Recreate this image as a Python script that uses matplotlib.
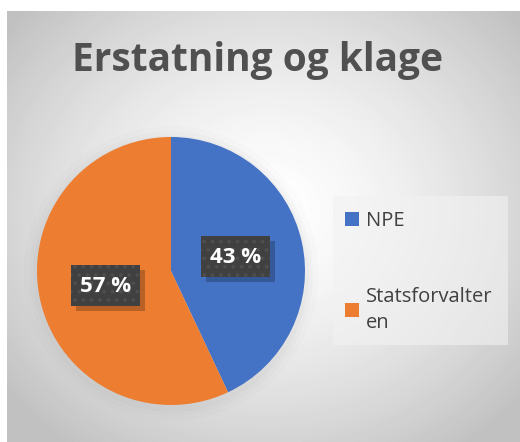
import numpy as np
import matplotlib.pyplot as plt
from matplotlib.patches import Patch, Rectangle, Circle

# Chart data
categories = ['NPE', 'Statsforvalteren']
values = [43, 57]
colors = ['#4472C4', '#ED7D31']
title = 'Erstatning og klage'

W, H = 520, 442
fig = plt.figure(figsize=(W / 100, H / 100), dpi=100)
fig.patch.set_facecolor('white')
plt.rcParams['hatch.linewidth'] = 1.5

# Radial gray background of the chart area
bg = fig.add_axes([7 / W, 0, 1 - 7 / W, 1 - 11 / H])
yy, xx = np.mgrid[0:431, 0:513]
d = np.hypot((xx - 260) / 330, (yy - 200) / 290)
shade = 1.0 - 0.24 * np.clip(d, 0, 1) ** 1.5
bg.imshow(shade, cmap='gray', vmin=0, vmax=1, aspect='auto', interpolation='bilinear')
bg.axis('off')

# Title
fig.text(257 / W, 1 - 61 / H, title, ha='center', va='center',
         fontsize=28, fontweight='bold', color='#505050', family='Open Sans')

# Pie axes: center (171, 271), radius 134 px
r = 134
cx, cy = 171, 271
ax = fig.add_axes([(cx - r) / W, 1 - (cy + r) / H, 2 * r / W, 2 * r / H])
wedges, _ = ax.pie(values, colors=colors, startangle=90, counterclock=False,
                   radius=1, wedgeprops=dict(linewidth=0))
ax.set_xlim(-1, 1)
ax.set_ylim(-1, 1)
ax.axis('off')

# soft glow behind the pie
for k, a in [(1.10, 0.025), (1.06, 0.035), (1.03, 0.045)]:
    ax.add_patch(Circle((0.0, -0.02), k, fc='#808080', ec='none', alpha=a, zorder=0,
                        clip_on=False))

# Percentage labels in dark boxes (box 69 x 41 px)
bw, bh = 69 / r, 41 / r
sh = 5 / r
label_pos = [(0.48, 0.108), (-0.49, -0.105)]
for (lx, ly), v in zip(label_pos, values):
    ax.add_patch(Rectangle((lx - bw / 2 + sh, ly - bh / 2 - sh), bw, bh,
                           fc='#000000', ec='none', alpha=0.22, zorder=3))
    ax.add_patch(Rectangle((lx - bw / 2, ly - bh / 2), bw, bh,
                           fc='#404040', ec='#4e4e4e', lw=0, hatch='..', zorder=4))
    ax.text(lx, ly - 0.01, f'{v} %', ha='center', va='center', fontsize=16,
            fontweight='bold', color='white', family='Open Sans', zorder=5)

# Legend
leg_ax = fig.add_axes([0, 0, 1, 1])
leg_ax.set_xlim(0, W)
leg_ax.set_ylim(H, 0)
leg_ax.axis('off')
leg_ax.add_patch(Rectangle((333, 196), 175, 149, fc='#f2f2f2', ec='none', alpha=0.6))

handles = [Patch(fc=c, ec='none') for c in colors]
labels = [categories[0], categories[1][:14] + '\n' + categories[1][14:]]
leg = leg_ax.legend(handles, labels, loc='upper left', bbox_to_anchor=(327 / W, 1 - 193 / H),
                    frameon=False, labelspacing=2.75, handlelength=0.7,
                    handleheight=0.7, handletextpad=0.35,
                    prop={'family': 'Open Sans', 'size': 14.5})
for t in leg.get_texts():
    t.set_color('#404040')
    t.set_linespacing(1.45)

fig.savefig('out.png', dpi=100)
